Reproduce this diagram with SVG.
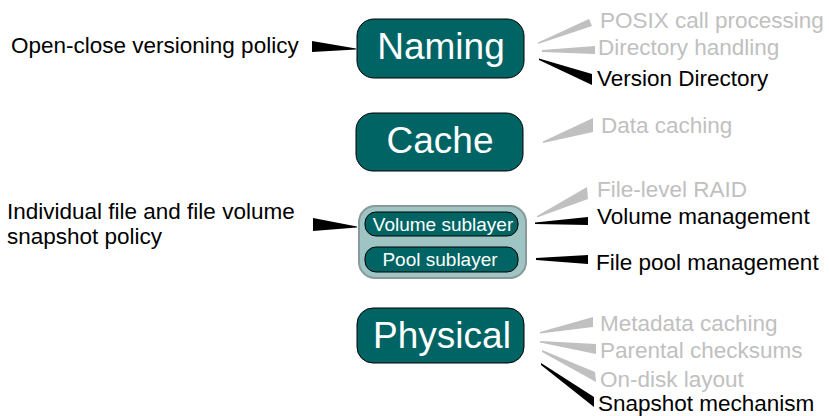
<svg xmlns="http://www.w3.org/2000/svg" width="829" height="416" viewBox="0 0 829 416">
<style>
.node{fill:#006464;stroke:#000;stroke-width:1}
.big{font-family:"Liberation Sans",Arial,sans-serif;font-size:37px;fill:#fff;text-anchor:middle}
.sub{font-family:"Liberation Sans",Arial,sans-serif;font-size:19px;fill:#fff;text-anchor:middle}
.lbl{font-family:"Liberation Sans",Arial,sans-serif;font-size:22.5px;fill:#000}
.dim{fill:#c0c0c0}
.wb{fill:#000}
.wg{fill:#c0c0c0}
</style>
<rect width="829" height="416" fill="#fff"/>
<g id="connectors">
<polygon class="wb" points="312,41 356,48.5 356,49.5 312,52"/>
<polygon class="wb" points="313,218 357,226.5 357,227.5 313,231"/>
<polygon class="wg" points="538,42.5 589,19 592,26 538,44"/>
<polygon class="wg" points="542,50 595,46 595,54 542,52"/>
<polygon class="wb" points="539,58.5 592,74 592,85 539,60"/>
<polygon class="wg" points="543,141.5 593,118 593,132 543,143"/>
<polygon class="wg" points="537,216 587,187 588,199 537,217.5"/>
<polygon class="wb" points="535,222.5 588,217 588,225 535,224"/>
<polygon class="wb" points="536,258 588,255 588,264 536,260"/>
<polygon class="wg" points="540,332 593,317 593,327 540,333.5"/>
<polygon class="wg" points="540,341 596,344 596,354 540,342.5"/>
<polygon class="wg" points="542,350 595,372 596,382 542,352"/>
<polygon class="wb" points="541,363 594,397 594,407 541,365"/>
</g>
<g id="naming">
<rect class="node" x="357" y="19" width="167" height="59" rx="17"/>
<text class="big" x="441" y="59">Naming</text>
</g>
<g id="cache">
<rect class="node" x="356" y="113" width="167" height="58" rx="17"/>
<text class="big" x="440" y="153">Cache</text>
</g>
<g id="middle">
<rect x="359" y="206" width="167" height="72" rx="16" fill="#9ec4c4" stroke="#8a9a9a" stroke-width="2"/>
<g id="volume">
<rect class="node" x="365" y="212" width="153" height="24" rx="11"/>
<text class="sub" x="443" y="231">Volume sublayer</text>
</g>
<g id="pool">
<rect class="node" x="365" y="247" width="153" height="25" rx="11"/>
<text class="sub" x="440" y="266">Pool sublayer</text>
</g>
</g>
<g id="physical">
<rect class="node" x="357" y="308" width="167" height="55" rx="16"/>
<text class="big" x="442" y="348">Physical</text>
</g>
<g id="labels">
<text class="lbl" x="11" y="53">Open-close versioning policy</text>
<text class="lbl" x="7" y="219">Individual file and file volume</text>
<text class="lbl" x="7" y="244">snapshot policy</text>
<text class="lbl dim" x="600" y="28">POSIX call processing</text>
<text class="lbl dim" x="598" y="55">Directory handling</text>
<text class="lbl" x="597" y="86">Version Directory</text>
<text class="lbl dim" x="601" y="133">Data caching</text>
<text class="lbl dim" x="597" y="197">File-level RAID</text>
<text class="lbl" x="597" y="224">Volume management</text>
<text class="lbl" x="596" y="270">File pool management</text>
<text class="lbl dim" x="600" y="331">Metadata caching</text>
<text class="lbl dim" x="600" y="358">Parental checksums</text>
<text class="lbl dim" x="600" y="387">On-disk layout</text>
<text class="lbl" x="598" y="411">Snapshot mechanism</text>
</g>
</svg>
